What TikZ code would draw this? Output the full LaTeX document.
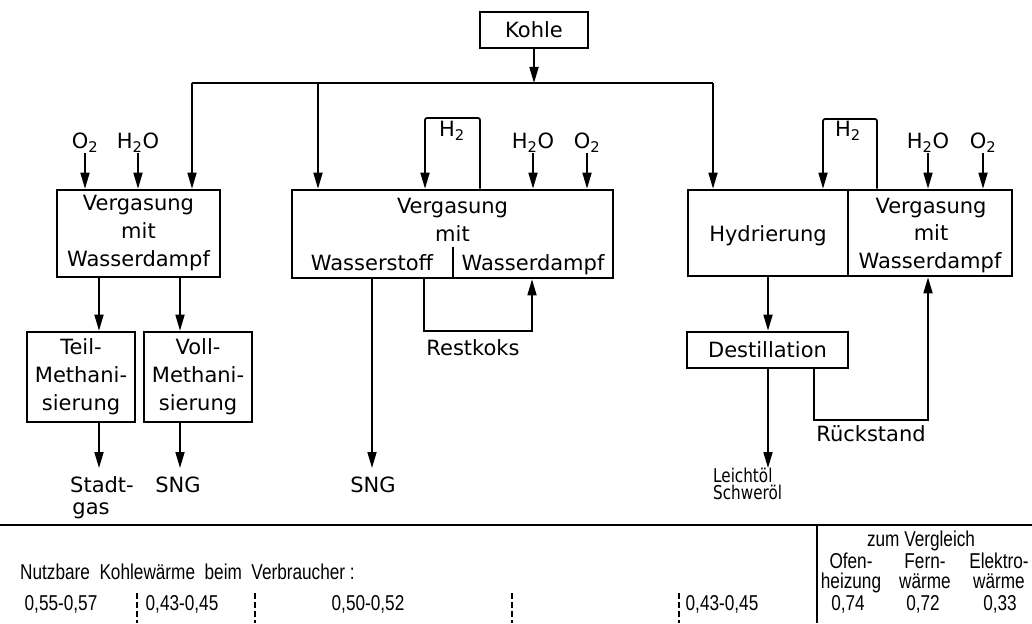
\documentclass[tikz,border=0pt]{standalone}
\usepackage{fontspec}
\setmainfont{DejaVu Sans}
\newfontfamily\condfont[FakeStretch=0.8]{Liberation Sans}
\newfontfamily\narrowdv[FakeStretch=0.8]{DejaVu Sans}
\usetikzlibrary{arrows.meta}
\begin{document}
\begin{tikzpicture}[x=1pt,y=-1pt,
  font=\fontsize{21}{28}\selectfont,
  every node/.style={inner sep=0pt},
  box/.style={draw, line width=2.6pt, rectangle, align=center},
  arr/.style={line width=1.7pt, -{Triangle[length=16pt,width=9pt]}},
  ln/.style={line width=1.7pt},
  divl/.style={line width=2.6pt},
  small/.style={font=\narrowdv\fontsize{19}{16}\selectfont},
  bot/.style={font=\condfont\fontsize{21.5}{20}\selectfont, align=center},
  dsh/.style={line width=1.2pt, dash pattern=on 6pt off 3pt},
]
\fill[white] (0,0) rectangle (1032,623);
\useasboundingbox (0,0) rectangle (1032,623);

% boxes
\node[box, minimum width=108pt, minimum height=36pt] (kohle) at (534,30) {Kohle};
\node[box, minimum width=163pt, minimum height=87pt] (lb) at (138.5,233.5) {Vergasung\\mit\\Wasserdampf};
\node[box, minimum width=321pt, minimum height=88pt] (mb) at (452.5,234) {};
\node[box, minimum width=324pt, minimum height=86pt] (rb) at (850,233) {};
\node[box, minimum width=108pt, minimum height=90pt] (teil) at (81,377) {Teil-\\Methani-\\sierung};
\node[box, minimum width=108pt, minimum height=90pt] (voll) at (198,377) {Voll-\\Methani-\\sierung};
\node[box, minimum width=161pt, minimum height=36pt] (dest) at (767.5,350) {Destillation};

% texts in middle box
\node[anchor=base] (mbv) at (452.5,213) {Vergasung};
\node[anchor=base] (mbm) at (452.5,241) {mit};
\node[anchor=base] (mbw) at (372,270) {Wasserstoff};
\node[anchor=base] (mbd) at (533,270) {Wasserdampf};
\coordinate (mdiv) at (453,247);
\draw[divl] (mdiv) -- (mdiv |- mb.south);

% texts in right box
\coordinate (rdiv) at (848,233);
\draw[divl] (rdiv |- rb.north) -- (rdiv |- rb.south);
\node[anchor=base] (hyd) at (768,241) {Hydrierung};
\node[anchor=base] (rbv) at (931,213) {Vergasung};
\node[anchor=base] (rbm) at (931,240) {mit};
\node[anchor=base] (rbd) at (930,268) {Wasserdampf};

% Kohle distribution
\coordinate (j) at (534,83);
\coordinate (jl) at (192,83);
\coordinate (jm) at (318,83);
\coordinate (jr) at (713,83);
\draw[arr] (kohle) -- (j);
\draw[ln] (jl) -- (jr);
\draw[arr] (jl) -- (lb.north -| jl);
\draw[arr] (jm) -- (mb.north -| jm);
\draw[arr] (jr) -- (rb.north -| jr);

% inputs left
\node (lo2) at (85,143) {O\textsubscript{2}};
\node (lh2o) at (138,143) {H\textsubscript{2}O};
\draw[arr] (lo2) -- (lo2 |- lb.north);
\draw[arr] (lh2o) -- (lh2o |- lb.north);

% inputs middle
\node (mh2o) at (533,143) {H\textsubscript{2}O};
\node (mo2) at (587,143) {O\textsubscript{2}};
\draw[arr] (mh2o) -- (mh2o |- mb.north);
\draw[arr] (mo2) -- (mo2 |- mb.north);
\node (mh2) at (452,131) {H\textsubscript{2}};
\coordinate (mh2a) at (480,118);
\coordinate (mh2b) at (425,118);
\draw[arr, rounded corners=2pt] (mb.north -| mh2a) |- (mh2b) -- (mb.north -| mh2b);

% inputs right
\node (rh2o) at (928,143) {H\textsubscript{2}O};
\node (ro2) at (983,143) {O\textsubscript{2}};
\draw[arr] (rh2o) -- (rh2o |- rb.north);
\draw[arr] (ro2) -- (ro2 |- rb.north);
\node (rh2) at (848,131) {H\textsubscript{2}};
\coordinate (rh2a) at (877,119);
\coordinate (rh2b) at (823,119);
\draw[arr, rounded corners=2pt] (rb.north -| rh2a) |- (rh2b) -- (rb.north -| rh2b);

% left outputs
\coordinate (l1) at (99,468);
\coordinate (l2) at (180,468);
\draw[arr] (lb.south -| l1) -- (teil.north -| l1);
\draw[arr] (lb.south -| l2) -- (voll.north -| l2);
\draw[arr] (teil.south -| l1) -- (l1);
\draw[arr] (voll.south -| l2) -- (l2);
\node[anchor=base] (stadt) at (102,492) {Stadt-};
\node[anchor=base] (gas) at (91,514) {gas};
\node[anchor=base] (sng1) at (178,492) {SNG};

% middle outputs
\coordinate (m1) at (372,468);
\draw[arr] (mb.south -| m1) -- (m1);
\node[anchor=base] (sng2) at (373,492) {SNG};
\coordinate (rk1) at (424,331);
\coordinate (rk2) at (532,331);
\draw[arr] (mb.south -| rk1) |- (rk2) -- (mb.south -| rk2);
\node[anchor=base] (restkoks) at (473,355) {Restkoks};

% right outputs
\coordinate (r1) at (768,468);
\draw[arr] (rb.south -| r1) -- (dest.north -| r1);
\draw[arr] (dest.south -| r1) -- (r1);
\coordinate (rs1) at (814,420);
\coordinate (rs2) at (928,420);
\draw[arr] (dest.south -| rs1) |- (rs2) -- (rb.south -| rs2);
\node[anchor=base] (rueck) at (871,441) {Rückstand};
\node[anchor=base west, small] (leicht) at (713,482) {Leichtöl};
\node[anchor=base west, small] (schwer) at (713,499) {Schweröl};

% bottom table
\coordinate (bl) at (0,525);
\coordinate (br) at (1032,525);
\draw[ln] (bl) -- (br);
\coordinate (vt) at (817,525);
\coordinate (vb) at (817,623);
\draw[ln] (vt) -- (vb);

\node[bot, anchor=base west] (nutz) at (20,579) {Nutzbare\ \ Kohlewärme\ \ beim\ \ Verbraucher\ :};
\node[bot, anchor=base] (v1) at (61,610) {0,55-0,57};
\node[bot, anchor=base] (v2) at (182,610) {0,43-0,45};
\node[bot, anchor=base] (v3) at (368,610) {0,50-0,52};
\node[bot, anchor=base] (v4) at (722,610) {0,43-0,45};
\coordinate (d1) at (137,593);
\coordinate (d2) at (255,593);
\coordinate (d3) at (512,593);
\coordinate (d4) at (679,593);
\foreach \d in {d1,d2,d3,d4} { \draw[dsh] (\d) -- (\d |- vb); }

\node[bot, anchor=base] (zum) at (921,546) {zum Vergleich};
\node[bot, anchor=base] (ofen) at (851,588) {Ofen-\\heizung};
\node[bot, anchor=base] (fern) at (925,588) {Fern-\\wärme};
\node[bot, anchor=base] (elek) at (999,588) {Elektro-\\wärme};
\node[bot, anchor=base] (w1) at (848,610) {0,74};
\node[bot, anchor=base] (w2) at (923,610) {0,72};
\node[bot, anchor=base] (w3) at (1000,610) {0,33};
\end{tikzpicture}
\end{document}
